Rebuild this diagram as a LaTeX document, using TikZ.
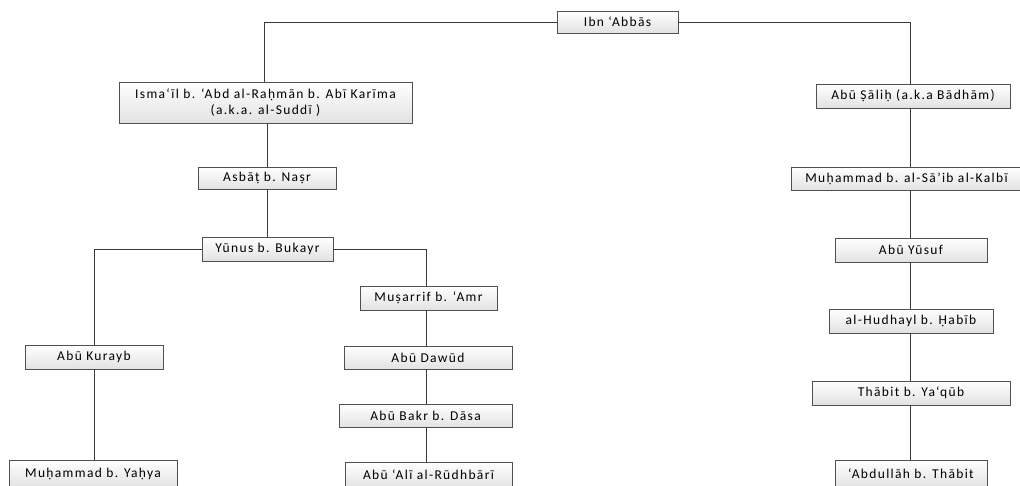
\documentclass[tikz,border=0pt]{standalone}
\usepackage{fontspec}
\setmainfont{Carlito}[LetterSpace=10]
\definecolor{boxc}{HTML}{505050}
\definecolor{boxg}{HTML}{E2E2E2}
\definecolor{linec}{HTML}{3A3A3A}
\tikzset{
  nb/.style={draw=boxc, line width=0.8pt, top color=white, bottom color=boxg,
    inner sep=0pt, align=center, font=\fontsize{13.5}{15.5}\selectfont, text=black},
  ln/.style={draw=linec, line width=0.9pt}
}
\newcommand\bx[6]{\node[nb, minimum width={(#4-#2)*1pt}, minimum height={(#5-#3)*1pt}]
  (#1) at ({(#2+#4)/2},{(#3+#5)/2}) {#6};}
\begin{document}
\begin{tikzpicture}[x=1pt,y=-1pt]
\useasboundingbox (0,0) rectangle (1020,485);
\clip (0,0) rectangle (1020,485);
\fill[white] (0,0) rectangle (1020,485);
\coordinate (colx) at (910,0);
\coordinate (colm) at (426,0);
\coordinate (coll) at (267,0);
% boxes
\bx{ibn}{557}{11}{678}{33}{Ibn ‘Abbās}
\bx{ism}{119}{82}{412}{123}{Isma‘īl b. ‘Abd al-Raḥmān b. Abī Karīma\\(a.k.a. al-Suddī )}
\bx{asb}{198}{167}{336}{189}{Asbāṭ b. Naṣr}
\bx{yun}{202}{237}{333}{261}{Yūnus b. Bukayr}
\bx{mus}{360}{286}{497}{310}{Muṣarrif b. ‘Amr}
\bx{kur}{25}{345}{163}{369}{Abū Kurayb}
\bx{daw}{344}{346}{512}{369}{Abū Dawūd}
\bx{bak}{339}{404}{512}{427}{Abū Bakr b. Dāsa}
\bx{yah}{9}{460}{177}{487}{Muḥammad b. Yaḥya}
\bx{ali}{345}{462}{512}{488}{Abū ‘Alī al-Rūdhbārī}
\bx{sal}{816}{84}{1010}{108}{Abū Ṣāliḥ (a.k.a Bādhām)}
\bx{kal}{791}{167}{1022}{190}{Muḥammad b. al-Sā’ib al-Kalbī}
\bx{yus}{835}{238}{987}{262}{Abū Yūsuf}
\bx{hud}{829}{309}{993}{333}{al-Hudhayl b. Ḥabīb}
\bx{tha}{812}{381}{1010}{405}{Thābit b. Ya‘qūb}
\bx{abd}{835}{460}{987}{487}{‘Abdullāh b. Thābit}
% connectors
\draw[ln] (ibn.west) -| ([xshift=-1pt]ism.north);
\draw[ln] (ibn.east) -| (sal.north -| colx);
\draw[ln] (ism.south -| coll) -- (asb.north -| coll);
\draw[ln] (asb.south -| coll) -- (yun.north -| coll);
\draw[ln] (yun.west) -| (kur.north);
\draw[ln] (yun.east) -| (mus.north -| colm);
\draw[ln] (mus.south -| colm) -- (daw.north -| colm);
\draw[ln] (daw.south -| colm) -- (bak.north -| colm);
\draw[ln] (bak.south -| colm) -- (ali.north -| colm);
\draw[ln] (kur.south) -- (kur.south |- yah.north);
\draw[ln] (sal.south -| colx) -- (kal.north -| colx);
\draw[ln] (kal.south -| colx) -- (yus.north -| colx);
\draw[ln] (yus.south -| colx) -- (hud.north -| colx);
\draw[ln] (hud.south -| colx) -- (tha.north -| colx);
\draw[ln] (tha.south -| colx) -- (abd.north -| colx);
\end{tikzpicture}
\end{document}
